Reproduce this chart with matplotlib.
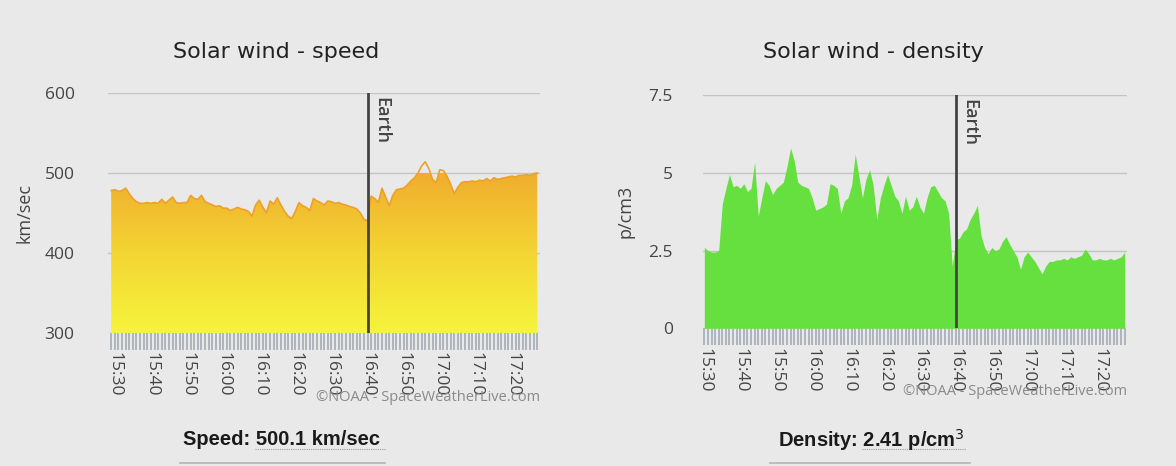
import numpy as np
import matplotlib
matplotlib.use("Agg")
import matplotlib.pyplot as plt
from matplotlib.colors import LinearSegmentedColormap
from matplotlib.patches import Polygon
from matplotlib.lines import Line2D
from matplotlib.ticker import MultipleLocator, FuncFormatter

# minutes after 15:30
speed_t = list(range(-1, 118))
speed = [478, 479, 477, 478, 481, 474, 468, 464, 462, 462, 463, 462, 463, 462, 467, 462,
         466, 470, 463, 462, 463, 463, 472, 468, 467, 472, 464, 462, 460, 458, 459, 456,
         456, 453, 455, 457, 455, 454, 452, 446, 460, 466, 457, 450, 465, 461, 469, 460,
         452, 446, 443, 452, 463, 459, 457, 453, 468, 465, 463, 460, 465, 464, 462, 463,
         461, 460, 458, 457, 455, 450, 442, 440, 471, 468, 463, 481, 470, 459, 472, 479,
         480, 481, 485, 490, 494, 500, 509, 514, 505, 492, 488, 504, 503, 496, 486, 474,
         482, 488, 489, 489, 490, 489, 491, 490, 493, 490, 494, 492, 493, 494, 495, 496,
         495, 497, 497, 498, 497, 499, 500]

density_t = list(range(0, 118))
density = [2.6, 2.5, 2.45, 2.45, 2.5, 4.0, 4.5, 4.95, 4.55, 4.6, 4.5, 4.65, 4.4, 4.5, 5.35,
           3.6, 4.2, 4.75, 4.6, 4.3, 4.5, 4.6, 4.7, 5.2, 5.8, 5.4, 4.7, 4.6, 4.55, 4.5, 4.2,
           3.8, 3.85, 3.9, 4.0, 4.65, 4.6, 4.5, 3.7, 4.1, 4.2, 4.6, 5.6, 4.9, 4.2, 4.8, 5.1,
           4.6, 3.5, 4.2, 4.6, 4.95, 4.6, 4.25, 4.1, 3.7, 4.25, 3.8, 3.9, 4.25, 3.9, 3.7, 4.2,
           4.55, 4.6, 4.4, 4.2, 4.1, 3.7, 2.0, 2.85, 2.9, 3.1, 3.2, 3.5, 3.7, 3.95, 3.0, 2.6,
           2.4, 2.6, 2.5, 2.55, 2.8, 2.95, 2.7, 2.5, 2.3, 1.9, 2.3, 2.45, 2.3, 2.15, 1.95, 1.75,
           2.0, 2.15, 2.15, 2.2, 2.2, 2.25, 2.2, 2.3, 2.25, 2.3, 2.35, 2.55, 2.4, 2.2, 2.2,
           2.25, 2.2, 2.2, 2.25, 2.2, 2.25, 2.3, 2.45]

earth_t = 70
speed_now = "500.1 km/sec"
density_now = "2.41 p/cm$^3$"

bg = "#e9e9e9"
font = "Open Sans"

fig = plt.figure(figsize=(11.76, 4.66), dpi=100, facecolor=bg)


def fmt_time(v, pos):
    m = int(round(v)) + 30
    return f"{15 + m // 60}:{m % 60:02d}"


def setup(ax, ylim, yticks, ylabel, xlim, ypad, lpad):
    ax.set_facecolor(bg)
    ax.set_xlim(*xlim)
    ax.set_ylim(*ylim)
    for s in ax.spines.values():
        s.set_visible(False)
    ax.set_yticks(yticks)
    ax.yaxis.grid(True, color="#c4c4c4", lw=1)
    ax.set_axisbelow(True)
    ax.tick_params(axis="y", length=0, pad=ypad, labelsize=12.5, labelcolor="#444")
    ax.xaxis.set_major_locator(MultipleLocator(10))
    ax.xaxis.set_minor_locator(MultipleLocator(1))
    ax.xaxis.set_major_formatter(FuncFormatter(fmt_time))
    ax.tick_params(axis="x", which="both", direction="out", length=12, width=1.2,
                   color="#a3abb3", pad=2, labelsize=12.5, labelcolor="#444",
                   labelrotation=270)
    ax.set_ylabel(ylabel, fontsize=13, color="#444", family=font, labelpad=lpad)
    ax.axvline(earth_t, color="#444", lw=2, zorder=5)
    ax.text(earth_t + 1.2, ylim[1] - (ylim[1] - ylim[0]) * 0.015, "Earth", rotation=270,
            va="top", ha="left", fontsize=13, color="#444", family=font,
            fontweight="semibold", zorder=6)
    ax.text(1.0, -0.27, "\u00a9NOAA - SpaceWeatherLive.com", transform=ax.transAxes,
            ha="right", va="center", fontsize=10.5, color="#8a8a8a", family=font)


# speed
ax1 = fig.add_axes([0.0918, 0.2855, 0.3672, 0.515])
setup(ax1, (300, 600), [300, 400, 500, 600], "km/sec", (-1.9, 117.7), 24, 8)
cmap1 = LinearSegmentedColormap.from_list("sp", ["#f6f43c", "#f3d533", "#f0ad2e"])
poly1 = Polygon(np.column_stack([[speed_t[0]] + speed_t + [speed_t[-1]],
                                 [300] + speed + [300]]), closed=True,
                facecolor="none", edgecolor="none")
ax1.add_patch(poly1)
grad = np.linspace(0, 1, 256).reshape(-1, 1)
img = ax1.imshow(grad, extent=[-2, 118, 300, 500], origin="lower", aspect="auto",
                 cmap=cmap1, zorder=2)
img.set_clip_path(poly1)
ax1.plot(speed_t, speed, color="#eea12a", lw=1.2, zorder=3)
ax1.set_xlim(-1.9, 117.7)
ax1.set_ylim(300, 600)

# density
ax2 = fig.add_axes([0.598, 0.2955, 0.3605, 0.5005])
setup(ax2, (0, 7.5), [0, 2.5, 5, 7.5], "p/cm3", (-0.3, 117.7), 22, 10)
ax2.yaxis.set_major_formatter(FuncFormatter(lambda v, p: f"{v:g}"))
ax2.fill_between(density_t, density, 0, color="#66e03e", lw=0, zorder=2)

for ax in (ax1, ax2):
    for lab in ax.get_yticklabels() + ax.get_xticklabels():
        lab.set_family(font)

fig.text(0.2347, 0.889, "Solar wind - speed", ha="center", va="center", fontsize=16,
         color="#222", family="DejaVu Sans")
fig.text(0.743, 0.889, "Solar wind - density", ha="center", va="center", fontsize=16,
         color="#222", family="DejaVu Sans")

fig.text(0.239, 0.056, "Speed: " + speed_now, ha="center", va="center", fontsize=14.5,
         fontweight="bold", family="Liberation Sans", color="#1a1a1a")
fig.text(0.741, 0.056, "Density: " + density_now, ha="center", va="center", fontsize=14.5,
         fontweight="bold", family="Liberation Sans", color="#1a1a1a")

# dotted underline under the values and the top edge of the box below
W, H = 1176, 466
for x0, x1 in [(255, 385), (862, 966)]:
    fig.add_artist(Line2D([x0 / W, x1 / W], [1 - 449 / H] * 2, color="#9a9a9a",
                          lw=0.8, ls=(0, (1, 1))))
for x0, x1 in [(180, 385), (770, 970)]:
    fig.add_artist(Line2D([x0 / W, x1 / W], [1 - 463 / H] * 2, color="#b5b5b5", lw=1.2))

fig.savefig("out.png", dpi=100, facecolor=bg)
